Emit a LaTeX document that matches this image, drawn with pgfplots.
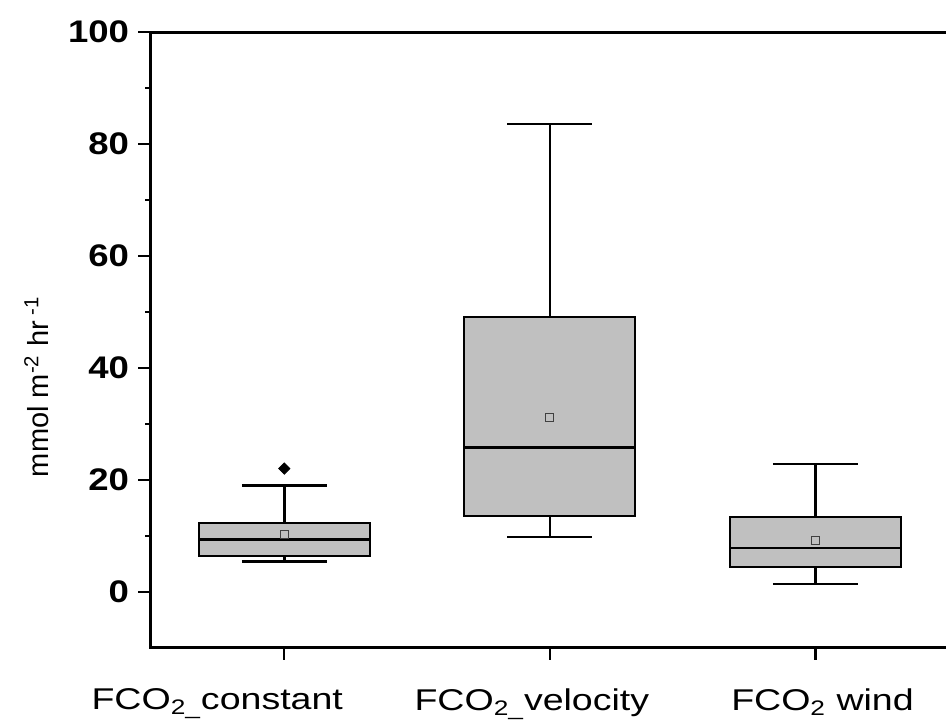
\documentclass[border=0pt]{standalone}
\usepackage{fontspec}
\setmainfont{Liberation Sans}
\newfontfamily\labfont[FakeStretch=1.25]{Liberation Sans}
\newfontfamily\tickfont[FakeStretch=1.17]{Liberation Sans}
\usepackage{pgfplots}
\pgfplotsset{compat=1.18}
\usepgfplotslibrary{statistics}
\definecolor{boxgray}{HTML}{C0C0C0}

\begin{document}
\begin{tikzpicture}
\begin{axis}[
  at={(0,0)}, anchor=south west,
  scale only axis,
  width=399.3pt, height=307.5pt,
  xmin=0.495, xmax=3.505,
  ymin=-10, ymax=100,
  xtick={1,2,3},
  xticklabels={\makebox[0pt]{\hspace*{-67pt}FCO\textsubscript{2\_}constant},
               \makebox[0pt]{\hspace*{-18pt}FCO\textsubscript{2\_}velocity},
               \makebox[0pt]{\hspace*{7pt}FCO\textsubscript{2} wind}},
  ytick={0,20,...,100},
  minor y tick num=1,
  xtick pos=bottom, ytick pos=left,
  tick align=outside,
  major tick length=6pt, minor tick length=2.5pt,
  every tick/.style={black, line width=1.2pt},
  axis line style={black, line width=1.5pt},
  /pgf/number format/assume math mode=true,
  yticklabel style={font=\fontsize{15.6}{18}\tickfont\bfseries, xshift=-1pt},
  xticklabel style={font=\fontsize{15}{17}\labfont, yshift=-11pt},
  ylabel={mmol m\textsuperscript{-2} hr\textsuperscript{ -1}},
  every axis y label/.style={at={(axis description cs:-0.142,0.424)}, rotate=90,
    anchor=center, font=\fontsize{14.5}{17}\selectfont},
  boxplot/draw direction=y,
  boxplot/every box/.style={draw=black, fill=boxgray, line width=1pt},
  boxplot/every median/.style={draw=black, line width=1.4pt},
  boxplot/every whisker/.style={draw=black, line width=1.3pt},
]
\addplot[boxplot prepared={median=9.3, upper quartile=12.3, lower quartile=6.3,
  upper whisker=19, lower whisker=5.4, draw position=1,
  box extend=0.644, whisker extend=0.32},
  mark=diamond*, mark size=2.8pt, mark options={fill=black, draw=black, xscale=1.33}]
  table[row sep=\\, y index=0] {y\\ 22\\};
\addplot[boxplot prepared={median=25.8, upper quartile=49, lower quartile=13.5,
  upper whisker=83.6, lower whisker=9.8, draw position=2,
  box extend=0.644, whisker extend=0.32}]
  coordinates {};
\addplot[boxplot prepared={median=7.8, upper quartile=13.4, lower quartile=4.5,
  upper whisker=22.8, lower whisker=1.4, draw position=3,
  box extend=0.644, whisker extend=0.32}]
  coordinates {};
% means
\addplot[only marks, mark=square*, mark size=2pt,
  mark options={fill=boxgray, draw=black!75, line width=0.6pt}]
  coordinates {(1,10.2) (2,31.2) (3,9.2)};
\end{axis}
\pgfresetboundingbox
\path[use as bounding box] (-75pt,-36.5pt) rectangle (397.5pt,323.5pt);
\end{tikzpicture}
\end{document}
